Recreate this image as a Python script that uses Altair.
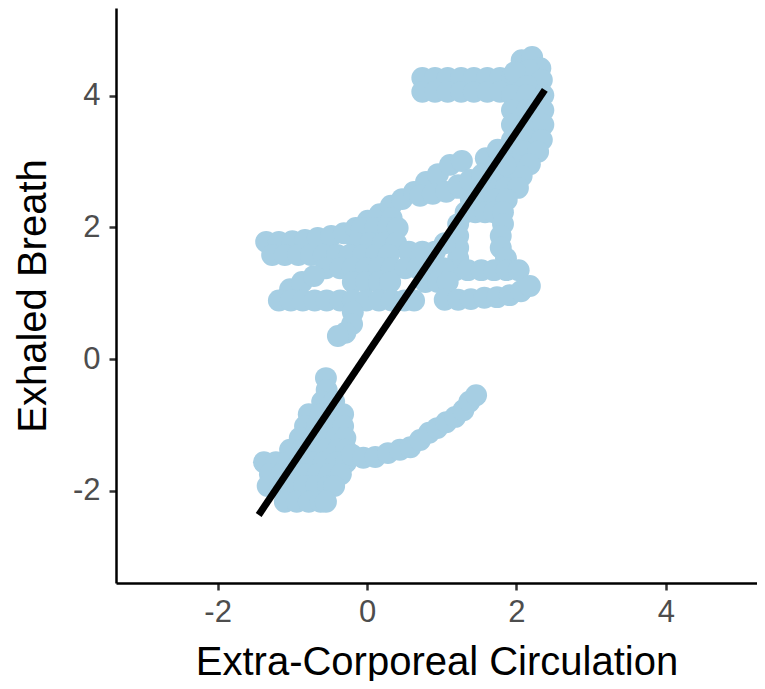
import altair as alt
import pandas as pd

# ---- traced data (Extra-Corporeal Circulation, Exhaled Breath) ----
top_band = [(0.74, 4.27), (0.91, 4.27), (1.08, 4.27), (1.26, 4.27), (1.43, 4.27), (1.61, 4.27),
            (1.78, 4.27), (1.94, 4.27),
            (0.74, 4.06), (0.91, 4.06), (1.08, 4.06), (1.26, 4.06), (1.43, 4.06), (1.61, 4.06),
            (1.78, 4.06)]
top_blob = [(2.07, 4.54), (2.21, 4.59), (2.32, 4.42), (2.16, 4.39), (1.98, 4.36), (2.34, 4.24),
            (2.14, 4.15)]
right_column = [(1.94, 4.01), (2.14, 4.01), (2.36, 4.01),
                (1.94, 3.78), (2.14, 3.78), (2.36, 3.78),
                (1.94, 3.56), (2.14, 3.56), (2.36, 3.56),
                (1.94, 3.33), (2.14, 3.33), (2.34, 3.33),
                (1.91, 3.15), (2.10, 3.15), (2.29, 3.15),
                (1.78, 2.96), (1.97, 2.96), (2.18, 2.96),
                (1.70, 2.78), (1.89, 2.78), (2.07, 2.78),
                (1.22, 2.60), (1.38, 2.60), (1.54, 2.60), (1.70, 2.60), (1.86, 2.60), (2.02, 2.60),
                (1.39, 2.42), (1.55, 2.42), (1.71, 2.42), (1.87, 2.42),
                (1.32, 2.23), (1.45, 2.23), (1.58, 2.23), (1.70, 2.23), (1.82, 2.23),
                (1.22, 2.05), (1.82, 2.05),
                (1.22, 1.87), (1.79, 1.87),
                (1.22, 1.69), (1.79, 1.69),
                (1.22, 1.53), (1.86, 1.53),
                (1.18, 1.35), (1.35, 1.35), (1.53, 1.35), (1.70, 1.35), (1.87, 1.35), (2.03, 1.35)]
diag_upper = [(-1.35, 1.78), (-1.18, 1.78), (-1.00, 1.79), (-0.83, 1.81), (-0.66, 1.84),
              (-0.48, 1.87), (-0.31, 1.91), (-0.15, 1.99), (0.01, 2.10), (0.17, 2.20),
              (0.32, 2.33), (0.47, 2.43), (0.63, 2.54), (0.79, 2.69), (0.95, 2.81),
              (1.11, 2.95), (1.27, 3.01), (1.59, 3.05), (1.75, 3.18)]
diag_lower = [(0.71, 2.48), (0.88, 2.51), (1.06, 2.54), (1.22, 2.64), (1.38, 2.72), (1.54, 2.80),
              (1.70, 2.87), (1.85, 2.95)]
central = [(0.33, 2.14),
           (-0.07, 1.99), (0.11, 1.99), (0.28, 1.99), (0.41, 1.99),
           (-0.13, 1.76), (0.04, 1.76), (0.21, 1.76), (0.39, 1.76), (1.04, 1.76),
           (0.56, 1.63), (0.74, 1.63), (0.91, 1.63),
           (-1.27, 1.58), (-1.10, 1.58), (-0.92, 1.58), (-0.75, 1.58), (-0.58, 1.58),
           (-0.40, 1.58), (-0.23, 1.58), (-0.05, 1.58), (0.12, 1.58), (0.29, 1.58),
           (-0.55, 1.38), (-0.36, 1.38), (-0.19, 1.38), (-0.01, 1.38), (0.16, 1.38),
           (0.33, 1.38), (0.51, 1.38), (0.68, 1.38), (0.86, 1.38), (1.02, 1.38),
           (-0.19, 1.17), (-0.01, 1.17), (0.16, 1.17), (0.31, 1.17), (0.78, 1.17),
           (0.95, 1.17), (1.08, 1.17)]
diag_left = [(-1.03, 1.06), (-0.87, 1.17), (-0.71, 1.26)]
lower_band = [(-1.18, 0.89), (-1.02, 0.89), (-0.86, 0.89), (-0.70, 0.89), (-0.54, 0.89),
              (-0.36, 0.89), (-0.19, 0.89), (-0.01, 0.89), (0.16, 0.89), (0.33, 0.89),
              (0.50, 0.89), (0.63, 0.89)]
lower_band_right = [(1.04, 0.90), (1.22, 0.90), (1.39, 0.91), (1.57, 0.93), (1.74, 0.94),
                    (1.91, 0.97), (2.06, 1.03), (2.18, 1.11)]
column_bottom = [(-0.19, 0.71), (-0.20, 0.53), (-0.29, 0.40), (-0.39, 0.35)]
lower_cluster = [(-0.55, -0.29), (-0.54, -0.47),
                 (-0.60, -0.65), (-0.44, -0.65),
                 (-0.78, -0.84), (-0.62, -0.84), (-0.46, -0.84), (-0.32, -0.84),
                 (-0.83, -1.02), (-0.67, -1.02), (-0.51, -1.02), (-0.32, -1.02),
                 (-0.90, -1.20), (-0.74, -1.20), (-0.58, -1.20), (-0.41, -1.20), (-0.29, -1.20),
                 (-1.03, -1.38), (-0.87, -1.38), (-0.71, -1.38), (-0.55, -1.38), (-0.39, -1.38),
                 (-0.28, -1.38),
                 (-1.38, -1.57), (-1.22, -1.57), (-1.06, -1.57), (-0.90, -1.57), (-0.74, -1.57),
                 (-0.58, -1.57), (-0.41, -1.57), (-0.28, -1.57),
                 (-1.30, -1.75), (-1.14, -1.75), (-0.98, -1.75), (-0.82, -1.75), (-0.66, -1.75),
                 (-0.50, -1.75), (-0.35, -1.75),
                 (-1.33, -1.93), (-1.16, -1.93), (-1.00, -1.93), (-0.84, -1.93), (-0.68, -1.93),
                 (-0.52, -1.93), (-0.44, -1.93),
                 (-1.10, -2.17), (-0.94, -2.17), (-0.78, -2.17), (-0.62, -2.17), (-0.55, -2.17)]
tail = [(-0.20, -1.46), (-0.05, -1.50), (0.11, -1.49), (0.28, -1.43), (0.44, -1.38), (0.58, -1.34),
        (0.71, -1.23), (0.83, -1.12), (0.94, -1.05), (1.06, -0.96), (1.18, -0.88), (1.29, -0.78),
        (1.37, -0.65), (1.46, -0.55)]

# fitted regression line end points
fit_x = [-1.45, 2.38]
fit_y = [-2.37, 4.09]

x_ticks = [-2, 0, 2, 4]
y_ticks = [-2, 0, 2, 4]

segments = [top_band, top_blob, right_column, diag_upper, diag_lower, central, diag_left,
            lower_band, lower_band_right, column_bottom, lower_cluster, tail]
points = pd.DataFrame([p for s in segments for p in s], columns=["ecc", "breath"])
fit = pd.DataFrame({"ecc": fit_x, "breath": fit_y})

FONT = "Liberation Sans"
x_scale = alt.Scale(domain=[-3.36, 5.22], nice=False, zero=False)
y_scale = alt.Scale(domain=[-3.404, 5.334], nice=False, zero=False)

common_axis = dict(grid=False, domainColor="black", domainWidth=2.5, tickColor="#333333",
                   tickWidth=2.5, tickSize=7, labelFontSize=31, labelColor="#4D4D4D",
                   labelFont=FONT, titleFont=FONT, titleFontSize=40, titleColor="black",
                   titleFontWeight="normal", labelExpr="'' + datum.value")

x_axis = alt.Axis(values=x_ticks, labelPadding=7, titleY=91, titleBaseline="alphabetic",
                  **common_axis)
y_axis = alt.Axis(values=y_ticks, labelPadding=9, titleX=-71, titleBaseline="alphabetic",
                  titleAngle=270, **common_axis)

pts = alt.Chart(points).mark_circle(size=480, opacity=1, color="#A6CEE3").encode(
    x=alt.X("ecc:Q", scale=x_scale, axis=x_axis, title="Extra-Corporeal Circulation"),
    y=alt.Y("breath:Q", scale=y_scale, axis=y_axis, title="Exhaled Breath"),
)
line = alt.Chart(fit).mark_line(color="black", strokeWidth=7, strokeCap="butt").encode(
    x=alt.X("ecc:Q", scale=x_scale),
    y=alt.Y("breath:Q", scale=y_scale),
)

chart = alt.layer(pts, line).properties(
    width=641, height=575,
    autosize=alt.AutoSizeParams(type="none"),
    padding={"left": 108, "top": 0, "right": 0, "bottom": 98},
    background="white",
).configure_view(stroke=None)

chart.save("out.html", embed_options={"renderer": "svg", "actions": False})
